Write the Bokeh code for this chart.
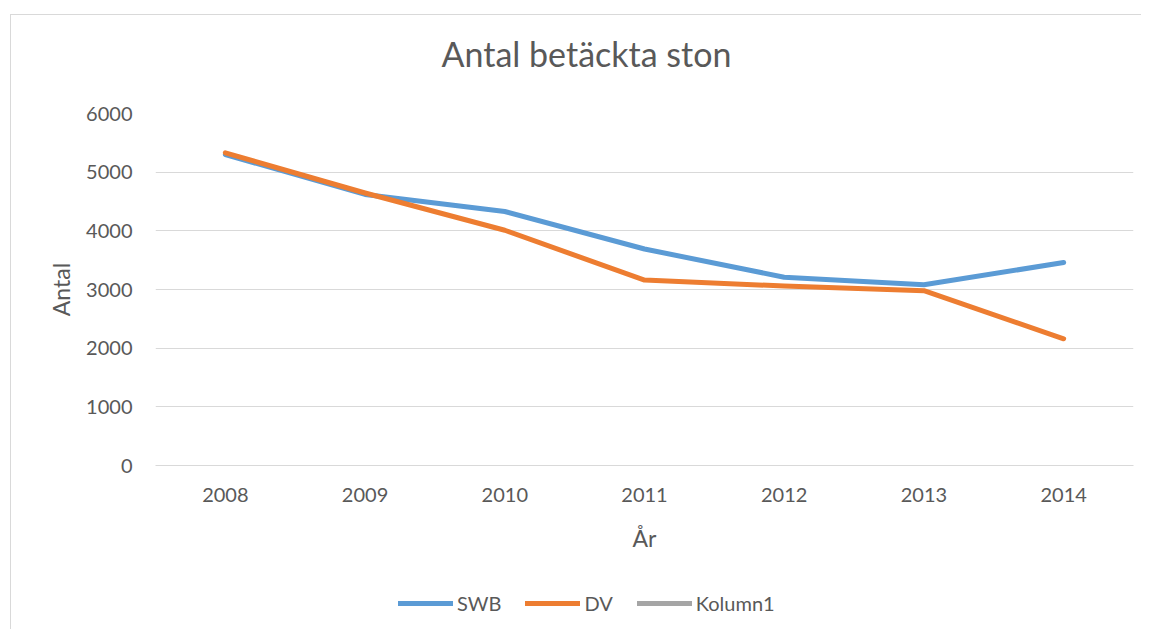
from bokeh.plotting import figure
from bokeh.layouts import column
from bokeh.models import FactorRange, Range1d, Legend, LegendItem, FixedTicker, Label
from bokeh.embed import file_html
from bokeh.resources import INLINE

years = ["2008", "2009", "2010", "2011", "2012", "2013", "2014"]
swb = [5300, 4620, 4330, 3690, 3210, 3080, 3460]
dv = [5330, 4645, 4010, 3160, 3060, 2980, 2160]
kolumn1_x = []
kolumn1_y = []
y_ticks = [0, 1000, 2000, 3000, 4000, 5000, 6000]
series_names = ["SWB", "DV", "Kolumn1"]
series_colors = ["#5b9bd5", "#ed7d31", "#a5a5a5"]
chart_title = "Antal betäckta ston"

TEXT = "#595959"
FONT = "Lato"
GRID = "#d9d9d9"

# title strip
pt = figure(width=1130, height=80, x_range=Range1d(0, 1), y_range=Range1d(0, 1),
            output_backend="svg", toolbar_location=None, min_border=0,
            x_axis_location=None, y_axis_location=None)
pt.outline_line_color = None
pt.grid.visible = False
pt.add_layout(Label(x=431, y=42, x_units="screen", y_units="screen", text=chart_title,
                    text_align="center", text_baseline="alphabetic", text_color=TEXT,
                    text_font=FONT, text_font_size="34px"))

# main chart
p = figure(x_range=FactorRange(*years), y_range=Range1d(0, 6000), title=None,
           width=1130, height=480, output_backend="svg", toolbar_location=None,
           min_border_left=144, min_border_right=8, min_border_top=18, min_border_bottom=110)
p.outline_line_color = None

p.line(years, swb, line_color=series_colors[0], line_width=5, line_cap="round", line_join="round")
p.line(years, dv, line_color=series_colors[1], line_width=5, line_cap="round", line_join="round")
p.line(kolumn1_x, kolumn1_y, line_color=series_colors[2], line_width=5, line_cap="round")

p.xgrid.grid_line_color = None
p.ygrid.grid_line_color = GRID
p.ygrid.grid_line_width = 1
p.yaxis.ticker = FixedTicker(ticks=y_ticks)

for ax in (p.xaxis[0], p.yaxis[0]):
    ax.axis_line_color = None
    ax.major_tick_line_color = None
    ax.minor_tick_line_color = None
    ax.major_label_text_color = TEXT
    ax.major_label_text_font = FONT
    ax.major_label_text_font_size = "20px"
    ax.axis_label_text_color = TEXT
    ax.axis_label_text_font = FONT
    ax.axis_label_text_font_size = "23px"
    ax.axis_label_text_font_style = "normal"

p.xaxis.axis_line_color = GRID
p.yaxis.axis_label = "Antal"
p.yaxis.major_label_standoff = 17
p.yaxis.axis_label_standoff = 8
p.xaxis.axis_label = "År"
p.xaxis.major_label_standoff = 16
p.xaxis.axis_label_standoff = 19

# legend strip below the chart (its own frame, so the legend is not clipped)
pl = figure(width=1130, height=54, x_range=Range1d(0, 1), y_range=Range1d(0, 1),
            output_backend="svg", toolbar_location=None, min_border=0,
            x_axis_location=None, y_axis_location=None)
pl.outline_line_color = None
pl.grid.visible = False
items = []
for name, col in zip(series_names, series_colors):
    r = pl.line([float("nan")], [float("nan")], line_color=col, line_width=5, line_cap="round")
    items.append(LegendItem(label=name, renderers=[r]))
legend = Legend(items=items, location=(243, 14), orientation="horizontal",
                glyph_width=55, glyph_height=20, label_standoff=4, spacing=24,
                padding=0, margin=0, border_line_color=None, background_fill_alpha=0,
                label_text_color=TEXT, label_text_font=FONT, label_text_font_size="20px")
pl.add_layout(legend, "center")

layout = column(pt, p, pl, spacing=0)
layout.styles = {"border-left": "1px solid #d9d9d9", "border-top": "1px solid #d9d9d9",
                 "margin-left": "10px", "margin-top": "14px"}

open("out.html", "w").write(file_html(layout, INLINE))
